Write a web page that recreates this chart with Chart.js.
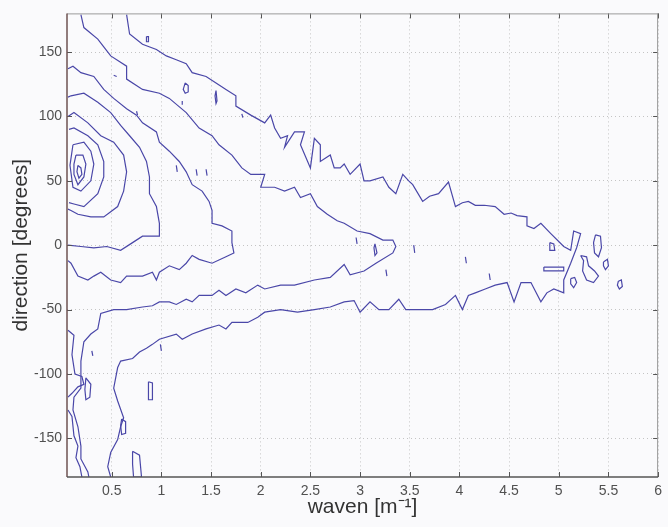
<!DOCTYPE html>
<html>
<head>
<meta charset="utf-8">
<script src="https://cdn.jsdelivr.net/npm/chart.js@4.4.1/dist/chart.umd.min.js"></script>
<style>
  html, body { margin: 0; padding: 0; background: #fafafc; }
  #wrap { width: 668px; height: 527px; }
</style>
</head>
<body>
<div id="wrap"><canvas id="contour"></canvas></div>
<script>
// axis ticks
const X_TICKS = [0.5, 1, 1.5, 2, 2.5, 3, 3.5, 4, 4.5, 5, 5.5, 6];
const Y_TICKS = [-150, -100, -50, 0, 50, 100, 150];

// contour lines, outermost first: [waven, direction]
const LEVEL_A = [
  [0.65,179],[0.68,164],[0.81,156],[0.95,152],[1.05,147],[1.15,144],[1.25,141],[1.31,134],
  [1.45,131],[1.55,126],[1.65,121],[1.75,116],[1.75,108],[1.90,101],[2.04,95],[2.10,101],
  [2.14,91],[2.20,83],[2.27,85],[2.24,76],[2.34,88],[2.44,88],[2.40,78],[2.50,60],[2.54,83],
  [2.60,78],[2.60,65],[2.70,70],[2.74,60],[2.80,60],[2.84,63],[2.90,55],[3.00,63],[3.04,50],
  [3.10,50],[3.23,53],[3.29,45],[3.36,40],[3.43,55],[3.49,50],[3.53,47],[3.63,34],[3.70,38],
  [3.79,40],[3.89,49],[3.96,30],[4.03,33],[4.09,34],[4.16,31],[4.25,31],[4.36,30],[4.45,24],
  [4.52,25],[4.58,23],[4.68,22],[4.68,15],[4.75,13],[4.82,17],[4.92,9],[5.05,-1],[5.12,-4],
  [5.15,11],[5.22,9],[5.18,-2],[5.12,-14],[5.05,-27],[5.05,-37],[4.95,-34],[4.88,-37],
  [4.82,-44],[4.72,-29],[4.62,-29],[4.55,-44],[4.48,-29],[4.36,-31],[4.26,-34],[4.16,-37],
  [4.09,-39],[4.03,-50],[3.96,-39],[3.86,-46],[3.73,-50],[3.59,-50],[3.46,-50],[3.39,-42],
  [3.29,-50],[3.19,-50],[3.10,-44],[3.00,-52],[2.94,-43],[2.84,-44],[2.70,-48],[2.54,-50],
  [2.37,-52],[2.20,-50],[2.04,-52],[1.97,-56],[1.87,-60],[1.71,-60],[1.65,-65],[1.58,-62],
  [1.45,-65],[1.31,-69],[1.21,-73],[1.15,-69],[0.98,-73],[0.91,-77],[0.85,-80],[0.78,-83],
  [0.71,-88],[0.59,-90],[0.56,-95],[0.52,-111],[0.56,-121],[0.62,-134],[0.59,-141],
  [0.56,-151],[0.49,-161],[0.46,-172],[0.49,-180]
];
const LEVEL_B = [
  [0.19,179],[0.22,169],[0.36,160],[0.42,154],[0.49,147],[0.65,139],[0.65,129],[0.81,121],
  [0.98,118],[1.08,114],[1.25,103],[1.38,91],[1.51,85],[1.58,78],[1.71,70],[1.81,60],
  [1.90,55],[2.04,55],[2.00,45],[2.14,45],[2.24,42],[2.34,45],[2.40,37],[2.50,40],[2.57,30],
  [2.67,24],[2.77,19],[2.84,17],[2.97,11],[3.10,9],[3.23,4],[3.33,4],[3.36,-1],[3.33,-6],
  [3.16,-14],[3.04,-20],[2.90,-23],[2.84,-15],[2.70,-25],[2.54,-27],[2.34,-31],[2.20,-31],
  [2.04,-34],[1.97,-31],[1.85,-37],[1.75,-34],[1.65,-39],[1.58,-35],[1.51,-39],[1.38,-39],
  [1.31,-44],[1.25,-42],[1.15,-46],[1.08,-44],[0.98,-44],[0.91,-47],[0.81,-48],[0.65,-50],
  [0.52,-50],[0.39,-53],[0.36,-65],[0.29,-69],[0.22,-75],[0.19,-90],[0.19,-111],[0.12,-118],
  [0.11,-128],[0.16,-141],[0.19,-156],[0.19,-166],[0.26,-176],[0.27,-180]
];
const LEVEL_C = [
  [0.06,137],[0.11,139],[0.19,134],[0.32,131],[0.42,121],[0.52,114],[0.65,106],[0.75,101],
  [0.81,95],[0.95,88],[0.98,80],[1.08,73],[1.18,65],[1.25,57],[1.31,47],[1.41,42],[1.48,34],
  [1.51,27],[1.51,17],[1.61,15],[1.71,11],[1.71,2],[1.73,-6],[1.65,-9],[1.51,-14],[1.38,-11],
  [1.31,-8],[1.25,-14],[1.18,-19],[1.08,-16],[0.98,-21],[0.95,-27],[0.91,-21],[0.81,-24],
  [0.65,-24],[0.59,-29],[0.49,-27],[0.39,-21],[0.32,-24],[0.26,-27],[0.16,-24],[0.09,-14],
  [0.06,-12]
];
const LEVEL_D = [
  [0.06,115],[0.09,116],[0.22,118],[0.36,111],[0.49,103],[0.59,93],[0.68,85],[0.78,76],
  [0.85,65],[0.88,53],[0.88,40],[0.95,30],[0.98,17],[0.98,7],[0.81,7],[0.71,2],[0.59,-4],
  [0.45,-1],[0.32,-2],[0.19,-1],[0.06,0]
];
const LEVEL_E = [
  [0.06,100],[0.12,103],[0.26,95],[0.39,85],[0.52,80],[0.62,70],[0.65,57],[0.62,42],
  [0.56,30],[0.42,22],[0.29,22],[0.16,24],[0.09,27],[0.06,28]
];
const LEVEL_F = [
  [0.07,90],[0.12,91],[0.26,85],[0.36,78],[0.42,65],[0.42,53],[0.36,40],[0.22,30],
  [0.12,32],[0.07,33]
];
const LEVEL_G = [
  [0.11,78],[0.22,80],[0.29,73],[0.32,63],[0.29,50],[0.19,42],[0.11,45],[0.08,62],[0.11,78]
];
const LEVEL_H = [
  [0.14,70],[0.21,70],[0.24,63],[0.22,53],[0.16,47],[0.12,55],[0.12,63],[0.14,70]
];
const LEVEL_I = [
  [0.16,62],[0.19,60],[0.20,55],[0.17,52],[0.15,57],[0.16,62]
];

// small closed islands and fragments scattered around the main contours
const ISLANDS = [
  [[1.24,126],[1.27,124],[1.27,119],[1.24,118],[1.22,121],[1.24,126]],
  [[1.55,120],[1.56,112],[1.55,110],[1.54,116],[1.55,120]],
  [[0.85,162],[0.87,162],[0.87,158],[0.85,158],[0.85,162]],
  [[0.52,132],[0.55,131]],
  [[1.21,112],[1.21,109]],
  [[0.75,104],[0.76,101]],
  [[1.15,62],[1.16,57]],
  [[1.35,59],[1.36,54]],
  [[1.45,59],[1.46,54]],
  [[1.81,102],[1.82,99]],
  [[2.96,6],[2.97,1]],
  [[3.15,1],[3.17,-6],[3.15,-8],[3.14,-2],[3.15,1]],
  [[3.54,0],[3.55,-6]],
  [[3.26,-19],[3.27,-24]],
  [[4.06,-9],[4.07,-14]],
  [[4.30,-22],[4.31,-27]],
  [[4.91,2],[4.95,1],[4.96,-4],[4.91,-4],[4.91,2]],
  [[4.85,-17],[5.05,-17],[5.05,-20],[4.85,-20],[4.85,-17]],
  [[5.22,-8],[5.25,-12],[5.24,-20],[5.28,-27],[5.35,-29],[5.40,-24],[5.36,-20],[5.30,-16],[5.28,-9],[5.22,-8]],
  [[5.37,8],[5.42,7],[5.43,-2],[5.40,-9],[5.36,-6],[5.35,2],[5.37,8]],
  [[5.45,-13],[5.49,-11],[5.50,-16],[5.47,-19],[5.45,-16],[5.45,-13]],
  [[5.60,-28],[5.63,-27],[5.64,-32],[5.61,-34],[5.59,-31],[5.60,-28]],
  [[5.12,-26],[5.16,-25],[5.18,-29],[5.15,-33],[5.12,-30],[5.12,-26]],
  [[0.60,-135],[0.64,-137],[0.64,-146],[0.60,-147],[0.59,-140],[0.60,-135]],
  [[0.71,-160],[0.78,-163],[0.80,-180],[0.72,-180],[0.71,-170],[0.71,-160]],
  [[0.24,-103],[0.29,-108],[0.28,-118],[0.24,-120],[0.23,-112],[0.24,-103]],
  [[0.87,-106],[0.91,-107],[0.91,-120],[0.87,-120],[0.87,-106]],
  [[0.06,-66],[0.12,-70],[0.10,-85],[0.13,-100],[0.20,-102],[0.22,-108],[0.16,-110],[0.10,-115],[0.06,-118]],
  [[0.06,-128],[0.10,-133],[0.12,-148],[0.16,-156],[0.14,-165],[0.18,-172],[0.20,-180]],
  [[0.30,-82],[0.31,-86]],
  [[0.99,-77],[1.00,-82]]
];

const LINE_COLOR = '#4a47a8';

const toPts = arr => arr.map(p => ({ x: p[0], y: p[1] }));
const lines = [LEVEL_A, LEVEL_B, LEVEL_C, LEVEL_D, LEVEL_E, LEVEL_F, LEVEL_G, LEVEL_H, LEVEL_I].concat(ISLANDS);

const datasets = lines.map(l => ({
  data: toPts(l),
  showLine: true,
  borderColor: LINE_COLOR,
  borderWidth: 1.2,
  pointRadius: 0,
  fill: false,
  tension: 0
}));

// frame around the plot plus matlab style inward tick marks
const framePlugin = {
  id: 'frame',
  afterDraw(chart) {
    const { ctx, chartArea: a, scales } = chart;
    ctx.save();
    ctx.lineWidth = 1;
    ctx.strokeStyle = '#555';
    ctx.beginPath();
    X_TICKS.forEach(v => {
      const px = Math.round(scales.x.getPixelForValue(v)) + 0.5;
      ctx.moveTo(px, a.bottom); ctx.lineTo(px, a.bottom - 5);
      ctx.moveTo(px, a.top); ctx.lineTo(px, a.top + 5);
    });
    Y_TICKS.forEach(v => {
      const py = Math.round(scales.y.getPixelForValue(v)) + 0.5;
      ctx.moveTo(a.left, py); ctx.lineTo(a.left + 5, py);
      ctx.moveTo(a.right, py); ctx.lineTo(a.right - 5, py);
    });
    ctx.stroke();
    ctx.strokeStyle = '#9a9a9a';
    ctx.beginPath();
    ctx.moveTo(a.left, a.top + 0.5); ctx.lineTo(a.right, a.top + 0.5);
    ctx.moveTo(a.right - 0.5, a.top); ctx.lineTo(a.right - 0.5, a.bottom);
    ctx.stroke();
    ctx.strokeStyle = '#6e5252';
    ctx.lineWidth = 1.5;
    ctx.beginPath();
    ctx.moveTo(a.left, a.top); ctx.lineTo(a.left, a.bottom);
    ctx.stroke();
    ctx.strokeStyle = '#555';
    ctx.beginPath();
    ctx.moveTo(a.left, a.bottom); ctx.lineTo(a.right, a.bottom);
    ctx.stroke();
    ctx.restore();
  }
};

new Chart(document.getElementById('contour'), {
  type: 'scatter',
  data: { datasets },
  options: {
    responsive: true,
    maintainAspectRatio: false,
    animation: false,
    layout: { padding: { top: 6, right: 2, left: 0, bottom: 0 } },
    plugins: { legend: { display: false }, tooltip: { enabled: false } },
    scales: {
      x: {
        type: 'linear',
        min: 0.05,
        max: 6,
        afterBuildTicks: s => { s.ticks = X_TICKS.map(v => ({ value: v })); },
        afterFit: s => { s.height = 50; },
        grid: { color: '#c4c4c4', drawTicks: false },
        border: { display: false, dash: [1, 3] },
        ticks: {
          padding: 6,
          color: '#505050',
          font: { family: 'Liberation Sans, Arial, sans-serif', size: 14 },
          maxRotation: 0,
          callback: v => String(v)
        },
        title: {
          display: true,
          text: 'waven [m\u207B\u00B9]',
          color: '#333',
          font: { family: 'Liberation Sans, Arial, sans-serif', size: 21 },
          padding: { top: 0, bottom: 7 }
        }
      },
      y: {
        type: 'linear',
        min: -180,
        max: 180,
        afterBuildTicks: s => { s.ticks = Y_TICKS.map(v => ({ value: v })); },
        afterFit: s => { s.width = 67; },
        grid: { color: '#c4c4c4', drawTicks: false },
        border: { display: false, dash: [1, 3] },
        ticks: {
          padding: 5,
          color: '#505050',
          font: { family: 'Liberation Sans, Arial, sans-serif', size: 14 },
          callback: v => String(v)
        },
        title: {
          display: true,
          text: 'direction [degrees]',
          color: '#333',
          font: { family: 'Liberation Sans, Arial, sans-serif', size: 21 },
          padding: { top: 9, bottom: 0 }
        }
      }
    }
  },
  plugins: [framePlugin]
});
</script>
</body>
</html>
